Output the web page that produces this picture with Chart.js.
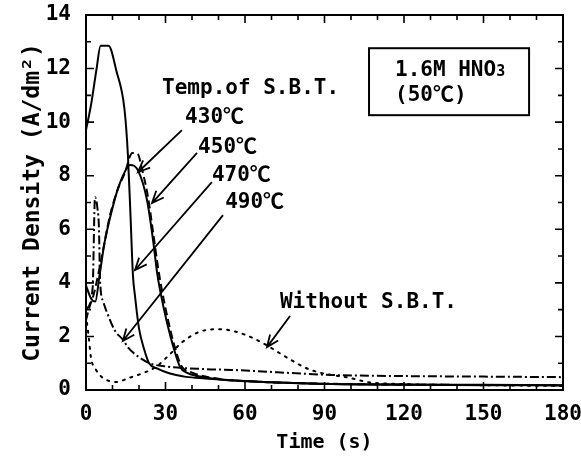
<!DOCTYPE html>
<html>
<head>
<meta charset="utf-8">
<script src="https://cdn.jsdelivr.net/npm/chart.js@4.4.1/dist/chart.umd.min.js"></script>
<style>
  html, body { margin: 0; padding: 0; background: #fff; }
  #wrap { width: 581px; height: 457px; }
</style>
</head>
<body>
<div id="wrap"><canvas id="chart" width="581" height="457"></canvas></div>
<script>
// Axis ranges and ticks
const xTicks = [0, 30, 60, 90, 120, 150, 180];
const yTicks = [0, 2, 4, 6, 8, 10, 12, 14];
const xMinorStep = 10;
const yMinorStep = 1;

// Current density (A/dm2) vs time (s)
// 430C
const t430 = [0, 2, 3.5, 5, 7, 9, 12, 15.5, 16.6, 19.6, 23, 25.3, 26.8, 28, 30.6, 33, 35.5, 38, 42, 50, 67, 93, 130, 180];
const j430 = [3.9, 3.4, 3.3, 4.2, 5.5, 6.4, 7.5, 8.3, 8.4, 8.2, 7.1, 5.6, 4.4, 3.7, 2.5, 1.6, 0.86, 0.65, 0.52, 0.4, 0.3, 0.22, 0.2, 0.18];
// 450C
const t450 = [0, 1, 3, 6, 9, 12, 15, 16.5, 17.4, 19.6, 21, 23.4, 25.3, 27, 28.5, 31, 33.5, 36, 40, 50, 67, 100, 180];
const j450 = [2.6, 3.0, 3.6, 5.0, 6.5, 7.5, 8.2, 8.7, 8.85, 8.8, 8.3, 7.2, 5.9, 4.7, 3.8, 2.6, 1.6, 0.9, 0.65, 0.42, 0.3, 0.22, 0.18];
// 470C
const t470 = [0, 2, 4, 5.5, 8.5, 11.5, 14.5, 15.8, 16.8, 17.7, 18.5, 20, 22, 23.8, 27, 30, 34, 37.7, 45, 55, 67, 80, 93, 120, 150, 180];
const j470 = [9.7, 10.7, 12.0, 12.85, 12.85, 11.9, 10.5, 8.8, 6.5, 4.3, 3.5, 2.3, 1.5, 1.0, 0.8, 0.67, 0.56, 0.49, 0.43, 0.36, 0.3, 0.26, 0.22, 0.2, 0.18, 0.17];
// 490C
const t490 = [0, 2.5, 3.4, 4.3, 4.9, 5.3, 6.5, 8.7, 11, 14, 16, 19, 24, 30, 45, 55, 93, 120, 150, 180];
const j490 = [3.0, 3.8, 7.2, 6.8, 6.0, 4.1, 3.3, 2.7, 2.2, 1.87, 1.57, 1.3, 1.0, 0.88, 0.78, 0.75, 0.56, 0.52, 0.5, 0.48];
// without S.B.T.
const tNone = [0, 1, 1.9, 3.8, 6.4, 11.3, 16.2, 21.5, 26.4, 31.3, 36.5, 43, 50.6, 57, 63, 68, 76, 83, 89, 99.6, 106, 120, 150, 180];
const jNone = [2.8, 2.0, 1.2, 0.75, 0.45, 0.3, 0.45, 0.63, 0.86, 1.3, 1.8, 2.18, 2.27, 2.16, 1.94, 1.68, 1.2, 0.82, 0.63, 0.45, 0.3, 0.22, 0.18, 0.15];

function pts(ts, js) {
    return ts.map((t, i) => ({ x: t, y: js[i] }));
}

const monoFont = '"DejaVu Sans Mono", "Noto Sans CJK JP", monospace';

// Labels and arrows, in data units
const labels = [
    { text: 'Temp.of S.B.T.', x: 28.7, y: 11.27 },
    { text: '430℃', x: 37.4, y: 10.19 },
    { text: '450℃', x: 42.3, y: 9.07 },
    { text: '470℃', x: 47.5, y: 8.02 },
    { text: '490℃', x: 52.5, y: 6.98 },
    { text: 'Without S.B.T.', x: 73.2, y: 3.25 }
];
const arrows = [
    { from: [36.2, 9.7], to: [19.6, 8.13] },
    { from: [41.9, 8.85], to: [24.9, 6.98] },
    { from: [47.5, 7.76], to: [18.5, 4.48] },
    { from: [51.7, 6.53], to: [13.9, 1.83] },
    { from: [77, 2.76], to: [68.3, 1.6] }
];
const box = { left: 106.8, right: 167.2, top: 12.76, bottom: 10.26, textX: 116.6, line1: 12.01, line2: 11.0 };

// Frame with inward ticks on all four sides
const frameTicks = {
    id: 'frameTicks',
    afterDraw(chart) {
        const { ctx, chartArea: a, scales: { x, y } } = chart;
        ctx.save();
        ctx.strokeStyle = '#000';
        ctx.lineWidth = 2;
        ctx.strokeRect(a.left, a.top, a.right - a.left, a.bottom - a.top);
        ctx.lineWidth = 1.6;
        ctx.beginPath();
        for (let v = x.min; v <= x.max; v += xMinorStep) {
            const px = x.getPixelForValue(v);
            const len = xTicks.includes(v) ? 8 : 5;
            ctx.moveTo(px, a.bottom); ctx.lineTo(px, a.bottom - len);
            ctx.moveTo(px, a.top); ctx.lineTo(px, a.top + len);
        }
        for (let v = y.min; v <= y.max; v += yMinorStep) {
            const py = y.getPixelForValue(v);
            const len = yTicks.includes(v) ? 8 : 5;
            ctx.moveTo(a.left, py); ctx.lineTo(a.left + len, py);
            ctx.moveTo(a.right, py); ctx.lineTo(a.right - len, py);
        }
        ctx.stroke();
        ctx.restore();
    }
};

// Text labels, arrows and the solution box
const notes = {
    id: 'notes',
    afterDraw(chart) {
        const { ctx, scales: { x, y } } = chart;
        ctx.save();
        ctx.fillStyle = '#000';
        ctx.strokeStyle = '#000';
        ctx.font = 'bold 21px ' + monoFont;
        ctx.textBaseline = 'middle';
        ctx.textAlign = 'left';
        labels.forEach(l => {
            ctx.fillText(l.text, x.getPixelForValue(l.x), y.getPixelForValue(l.y));
        });

        ctx.lineWidth = 1.8;
        arrows.forEach(ar => {
            const x0 = x.getPixelForValue(ar.from[0]), y0 = y.getPixelForValue(ar.from[1]);
            const x1 = x.getPixelForValue(ar.to[0]), y1 = y.getPixelForValue(ar.to[1]);
            const ang = Math.atan2(y1 - y0, x1 - x0);
            const head = 13;
            ctx.beginPath();
            ctx.moveTo(x0, y0);
            ctx.lineTo(x1, y1);
            ctx.moveTo(x1 - head * Math.cos(ang - 0.4), y1 - head * Math.sin(ang - 0.4));
            ctx.lineTo(x1, y1);
            ctx.lineTo(x1 - head * Math.cos(ang + 0.4), y1 - head * Math.sin(ang + 0.4));
            ctx.stroke();
        });

        const bl = x.getPixelForValue(box.left), br = x.getPixelForValue(box.right);
        const bt = y.getPixelForValue(box.top), bb = y.getPixelForValue(box.bottom);
        ctx.lineWidth = 2;
        ctx.strokeRect(bl, bt, br - bl, bb - bt);
        const tx = x.getPixelForValue(box.textX);
        const y1 = y.getPixelForValue(box.line1);
        ctx.textBaseline = 'alphabetic';
        ctx.fillText('1.6M HNO', tx, y1 + 8);
        const w = ctx.measureText('1.6M HNO').width;
        ctx.font = 'bold 15px ' + monoFont;
        ctx.fillText('3', tx + w, y1 + 8);
        ctx.font = 'bold 21px ' + monoFont;
        ctx.textBaseline = 'middle';
        ctx.fillText('(50℃)', tx, y.getPixelForValue(box.line2));
        ctx.restore();
    }
};

const lineBase = {
    showLine: true,
    pointRadius: 0,
    borderColor: '#000',
    borderWidth: 2,
    fill: false,
    cubicInterpolationMode: 'monotone'
};

// keep tick labels from pushing the plot area inwards
function noOverflow(s) {
    s.paddingLeft = 0;
    s.paddingRight = 0;
    s.paddingTop = 0;
    s.paddingBottom = 0;
}

new Chart(document.getElementById('chart'), {
    type: 'scatter',
    data: {
        datasets: [
            { ...lineBase, label: '430℃', data: pts(t430, j430) },
            { ...lineBase, label: '450℃', data: pts(t450, j450), borderDash: [8, 4] },
            { ...lineBase, label: '470℃', data: pts(t470, j470) },
            { ...lineBase, label: '490℃', data: pts(t490, j490), borderDash: [9, 3, 2, 3] },
            { ...lineBase, label: 'Without S.B.T.', data: pts(tNone, jNone), borderDash: [2, 6], borderCapStyle: 'round' }
        ]
    },
    options: {
        responsive: false,
        animation: false,
        layout: { padding: { top: 15, right: 18, left: 0, bottom: 0 } },
        plugins: {
            legend: { display: false },
            tooltip: { enabled: false }
        },
        scales: {
            x: {
                type: 'linear',
                min: 0,
                max: 180,
                afterFit: s => { s.height = 67; noOverflow(s); },
                afterBuildTicks: s => { s.ticks = xTicks.map(v => ({ value: v })); },
                grid: { display: false, drawTicks: false },
                border: { display: false },
                ticks: { color: '#000', padding: 12, maxRotation: 0, font: { family: monoFont, size: 21, weight: 'bold' } },
                title: { display: true, text: 'Time (s)', color: '#000', padding: 2, font: { family: monoFont, size: 20, weight: 'bold' } }
            },
            y: {
                min: 0,
                max: 14,
                afterFit: s => { s.width = 86; noOverflow(s); },
                afterBuildTicks: s => { s.ticks = yTicks.map(v => ({ value: v })); },
                grid: { display: false, drawTicks: false },
                border: { display: false },
                ticks: { color: '#000', padding: 15, font: { family: monoFont, size: 21, weight: 'bold' } },
                title: { display: true, text: 'Current Density (A/dm²)', color: '#000', padding: 19, font: { family: monoFont, size: 23, weight: 'bold' } }
            }
        }
    },
    plugins: [frameTicks, notes]
});
</script>
</body>
</html>
